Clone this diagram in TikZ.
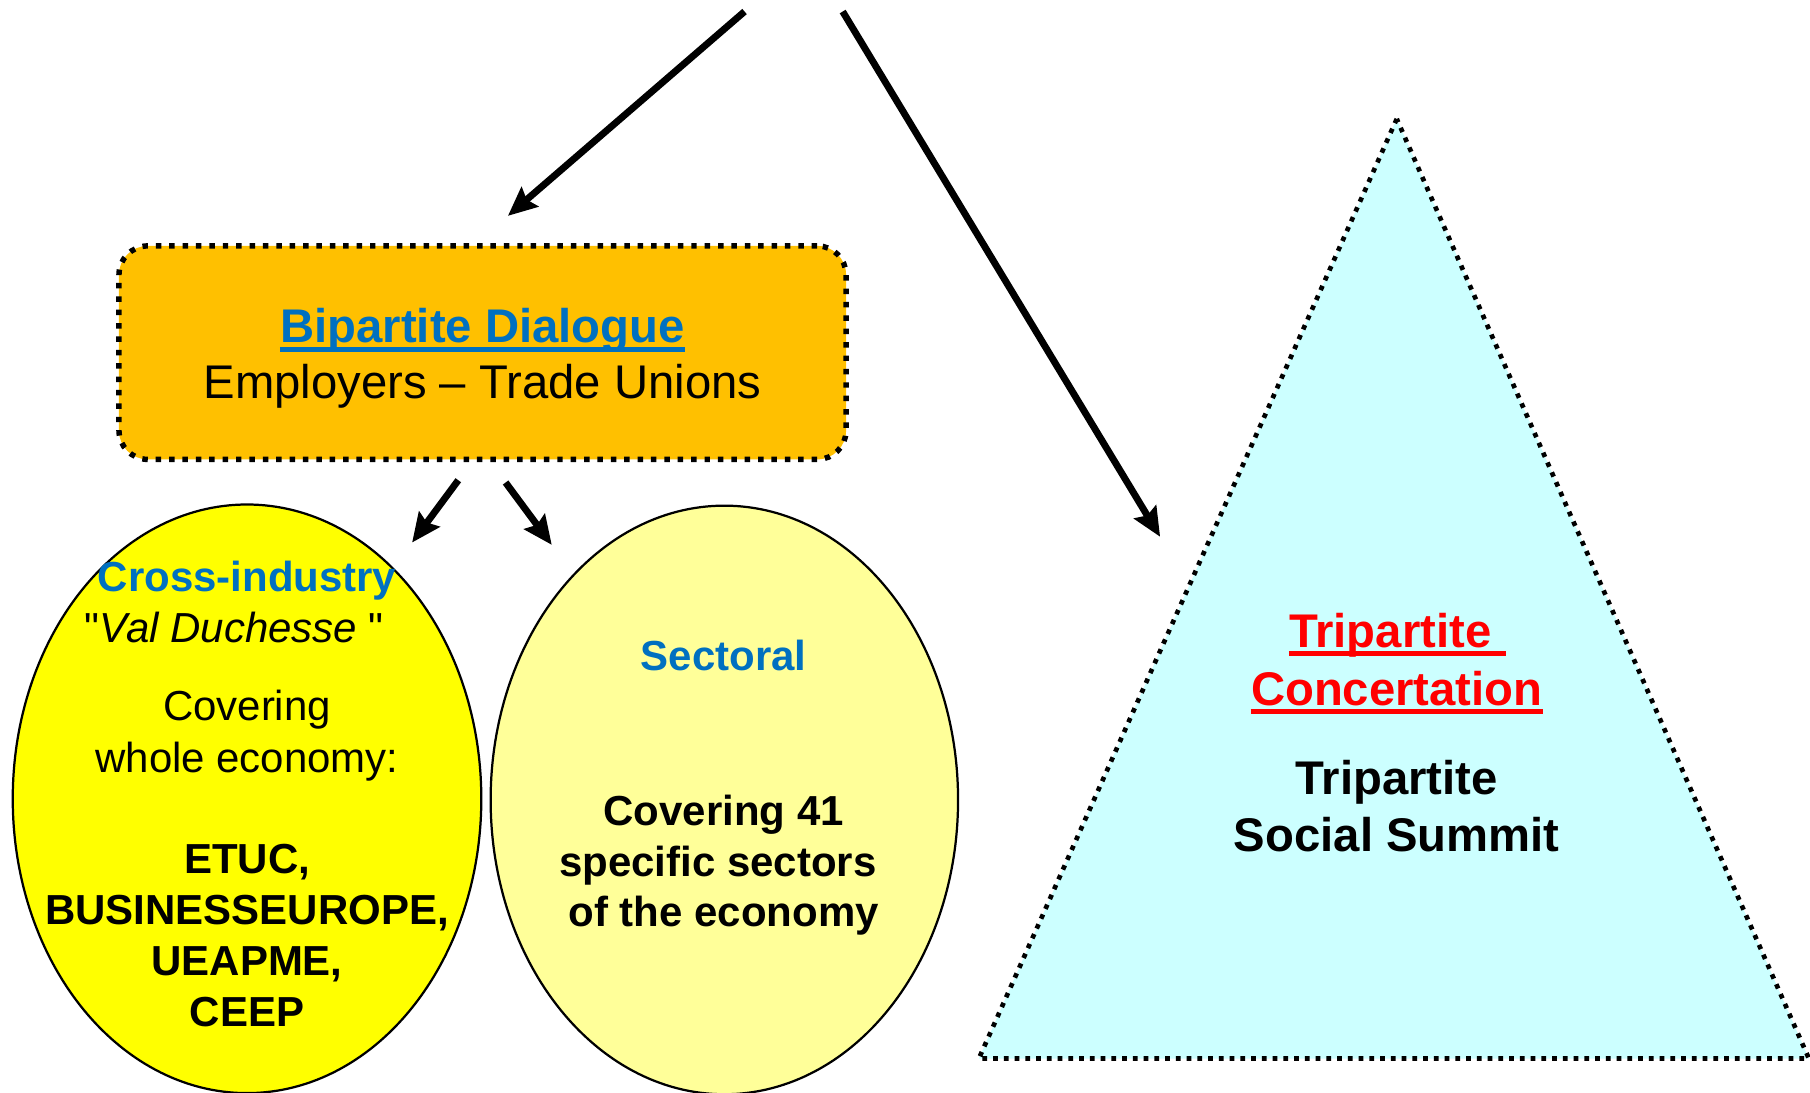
\documentclass[tikz,border=0pt]{standalone}
\usepackage{fontspec}
\setmainfont{Liberation Sans}[Ligatures=TeXOff]
\usetikzlibrary{arrows.meta,shapes.geometric}
\definecolor{hdblue}{HTML}{0070C0}
\definecolor{hdred}{HTML}{FF0000}
\definecolor{boxorange}{HTML}{FFC000}
\definecolor{ellyellow}{HTML}{FFFF00}
\definecolor{elllight}{HTML}{FFFF99}
\definecolor{tricyan}{HTML}{CCFFFF}
\begin{document}
\begin{tikzpicture}[x=0.02cm,y=-0.02cm,
  bigtext/.style={font=\fontsize{23.3}{28}\selectfont, inner sep=0pt, anchor=base},
  bigbold/.style={font=\fontsize{23.3}{28}\selectfont\bfseries, inner sep=0pt, anchor=base},
  smalltext/.style={font=\fontsize{20.7}{25}\selectfont, inner sep=0pt, anchor=base},
  smallbold/.style={font=\fontsize{20.7}{25}\selectfont\bfseries, inner sep=0pt, anchor=base},
  arr/.style={line width=3.4pt, -{Stealth[length=0.5cm,width=0.44cm,inset=0.07cm]}},
  dotbox/.style={draw=black, line width=2.7pt, dash pattern=on 2.7pt off 3.9pt, rounded corners=0.5cm},
  elli/.style={ellipse, draw=black, line width=1.1pt, inner sep=0pt},
  ulblue/.style={hdblue, line width=0.085cm},
  ulred/.style={hdred, line width=0.085cm}]
\useasboundingbox (0,0) rectangle (1568,946);

% triangle
\coordinate (tA) at (1210,103);
\coordinate (tB) at (848,917);
\coordinate (tC) at (1567,917);
\fill[tricyan] (tA) -- (tB) -- (tC) -- cycle;
\draw[line width=2.3pt, dash pattern=on 2.3pt off 3pt] (tA) -- (tB) -- (tC) -- cycle;

% bipartite box
\node[dotbox, fill=boxorange, minimum width=12.6cm, minimum height=3.7cm] (box) at (418,305.5) {};
\node[bigbold, text=hdblue] (bip) at (418,297) {Bipartite Dialogue};
\draw[ulblue] ([yshift=-0.11cm]bip.base west) -- ([yshift=-0.11cm]bip.base east);
\node[bigtext] (emp) at (418,345.5) {Employers – Trade Unions};

% ellipses
\node[elli, fill=ellyellow, minimum width=8.12cm, minimum height=10.2cm] (eL) at (214,692) {};
\node[elli, fill=elllight, minimum width=8.1cm, minimum height=10.2cm] (eR) at (627.5,693) {};

% left ellipse text
\node[smallbold, text=hdblue] (cross) at (214,512) {Cross-industry};
\node[smalltext] (val) at (203,557) {"\textit{Val Duchesse} "};
\node[smalltext] (cov1) at (214,624) {Covering};
\node[smalltext] (cov2) at (214,669) {whole economy:};
\node[smallbold] (etuc) at (214,757) {ETUC,};
\node[smallbold] (busi) at (214,801) {BUSINESSEUROPE,};
\node[smallbold] (ueap) at (214,845) {UEAPME,};
\node[smallbold] (ceep) at (214,889) {CEEP};

% right ellipse text
\node[smallbold, text=hdblue] (sect) at (627,581) {Sectoral};
\node[smallbold] (c41) at (627,715) {Covering 41};
\node[smallbold] (spec) at (622,759) {specific sectors};
\node[smallbold] (ofth) at (627,803) {of the economy};

% triangle text
\node[bigbold, text=hdred] (tri1) at (1210.5,561) {Tripartite\kern0.3em};
\node[bigbold, text=hdred] (tri2) at (1210,611) {Concertation};
\node[bigbold] (tri3) at (1210,688) {Tripartite};
\node[bigbold] (tri4) at (1210,738) {Social Summit};
\draw[ulred] ([yshift=-0.11cm]tri1.base west) -- ([yshift=-0.11cm]tri1.base east);
\draw[ulred] ([yshift=-0.11cm]tri2.base west) -- ([yshift=-0.11cm]tri2.base east);

% arrows
\coordinate (s1) at (645,10);
\coordinate (e1) at (440,187);
\coordinate (s2) at (730,10);
\coordinate (e2) at (1005,465);
\coordinate (s3) at (397,416);
\coordinate (e3) at (357,470);
\coordinate (s4) at (438,418);
\coordinate (e4) at (478,472);
\draw[arr] (s1) -- (e1);
\draw[arr] (s2) -- (e2);
\draw[arr] (s3) -- (e3);
\draw[arr] (s4) -- (e4);
\end{tikzpicture}
\end{document}
